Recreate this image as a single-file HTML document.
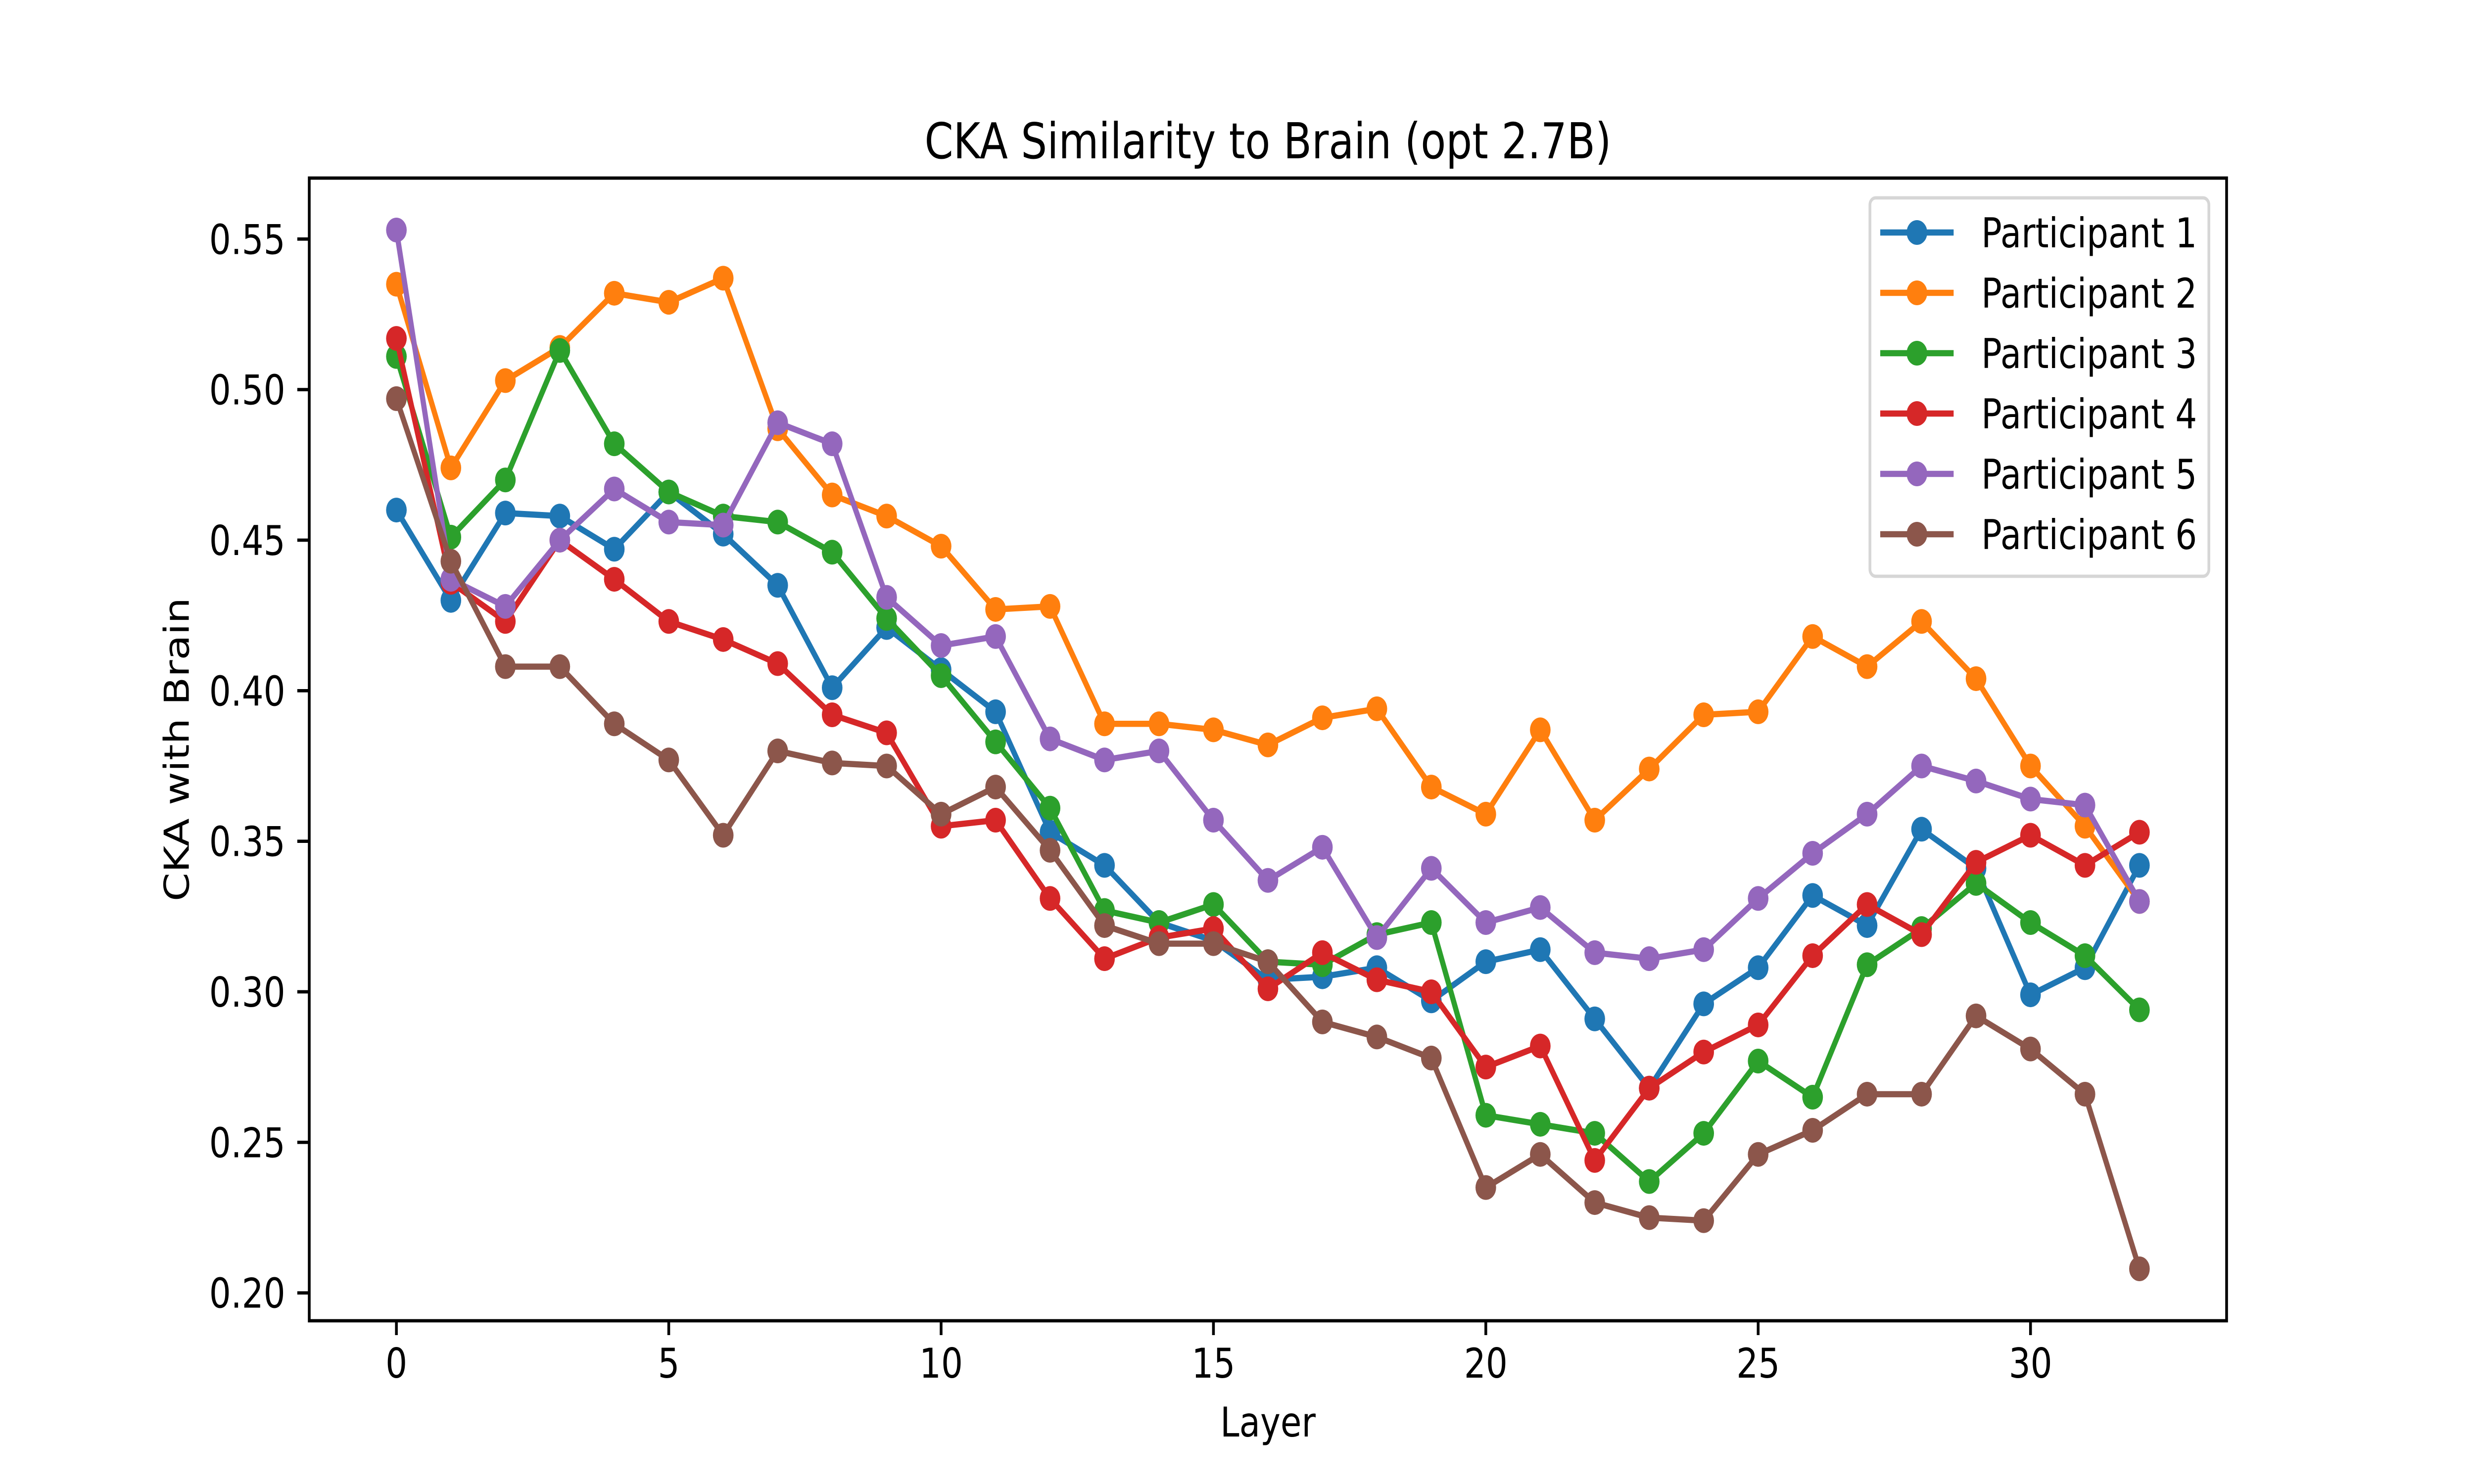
<!DOCTYPE html>
<html><head><meta charset="utf-8"><style>
html,body{margin:0;padding:0;background:#fff;overflow:hidden;width:100%;height:100%;}
svg{display:block;width:100vw;height:100vh;font-family:"DejaVu Sans","Liberation Sans",sans-serif;}
</style></head><body>
<svg id="chart" viewBox="0 0 6000 3000" preserveAspectRatio="none" xmlns="http://www.w3.org/2000/svg">
<rect width="6000" height="3000" fill="#fff"/>
<g id="plot"></g>
</svg>
<script>
const layers = Array.from({length:33},(_,i)=>i);
const p1 = [0.460,0.430,0.459,0.458,0.447,0.466,0.452,0.435,0.401,0.421,0.407,0.393,0.353,0.342,0.323,0.317,0.304,0.305,0.308,0.297,0.310,0.314,0.291,0.268,0.296,0.308,0.332,0.322,0.354,0.341,0.299,0.308,0.342];
const p2 = [0.535,0.474,0.503,0.514,0.532,0.529,0.537,0.487,0.465,0.458,0.448,0.427,0.428,0.389,0.389,0.387,0.382,0.391,0.394,0.368,0.359,0.387,0.357,0.374,0.392,0.393,0.418,0.408,0.423,0.404,0.375,0.355,0.330];
const p3 = [0.511,0.451,0.470,0.513,0.482,0.466,0.458,0.456,0.446,0.424,0.405,0.383,0.361,0.327,0.323,0.329,0.310,0.309,0.319,0.323,0.259,0.256,0.253,0.237,0.253,0.277,0.265,0.309,0.321,0.336,0.323,0.312,0.294];
const p4 = [0.517,0.436,0.423,0.450,0.437,0.423,0.417,0.409,0.392,0.386,0.355,0.357,0.331,0.311,0.318,0.321,0.301,0.313,0.304,0.300,0.275,0.282,0.244,0.268,0.280,0.289,0.312,0.329,0.319,0.343,0.352,0.342,0.353];
const p5 = [0.553,0.437,0.428,0.450,0.467,0.456,0.455,0.489,0.482,0.431,0.415,0.418,0.384,0.377,0.380,0.357,0.337,0.348,0.318,0.341,0.323,0.328,0.313,0.311,0.314,0.331,0.346,0.359,0.375,0.370,0.364,0.362,0.330];
const p6 = [0.497,0.443,0.408,0.408,0.389,0.377,0.352,0.380,0.376,0.375,0.359,0.368,0.347,0.322,0.316,0.316,0.310,0.290,0.285,0.278,0.235,0.246,0.230,0.225,0.224,0.246,0.254,0.266,0.266,0.292,0.281,0.266,0.208];
const seriesNames = ["Participant 1","Participant 2","Participant 3","Participant 4","Participant 5","Participant 6"];
const xTicks = [0,5,10,15,20,25,30];
const yTicks = [0.20,0.25,0.30,0.35,0.40,0.45,0.50,0.55];

const series=[p1,p2,p3,p4,p5,p6];
const colors=["#1f77b4","#ff7f0e","#2ca02c","#d62728","#9467bd","#8c564b"];
const L=750,R=5400,T=360,B=2670;
const all=series.flat();
const dmin=Math.min(...all),dmax=Math.max(...all),m=(dmax-dmin)*0.05;
const y0=dmin-m,y1=dmax+m;
const xmax=layers[layers.length-1],xm=xmax*0.05;
const X=v=>L+(v+xm)/(xmax+2*xm)*(R-L);
const Y=v=>B-(v-y0)/(y1-y0)*(B-T);
const NS="http://www.w3.org/2000/svg";
const g=document.getElementById('plot');
function el(tag,attrs,parent){const e=document.createElementNS(NS,tag);for(const k in attrs)e.setAttribute(k,attrs[k]);(parent||g).appendChild(e);return e;}

series.forEach((s,si)=>{
  const sg=el('g',{});
  
  
  const pl=el('polyline',{points:s.map((v,i)=>X(layers[i])+','+Y(v)).join(' '),fill:'none',stroke:colors[si],'stroke-width':12.5,'stroke-linejoin':'round','stroke-linecap':'square'},sg);
  
  
  s.forEach((v,i)=>{
    const c=el('circle',{cx:X(layers[i]),cy:Y(v),r:25,fill:colors[si]},sg);
    
    
  });
});

const fr=el('rect',{x:L,y:T,width:R-L,height:B-T,fill:'none',stroke:'#000','stroke-width':6.67});



xTicks.forEach(t=>{
  const x=X(t);
  const tk=el('line',{x1:x,x2:x,y1:B,y2:B+29,stroke:'#000','stroke-width':6.67});
  
  
  const tx=el('text',{x:x,y:B+115,'font-size':83,'text-anchor':'middle',fill:'#000'});
  tx.textContent=String(t);
  
  
});
yTicks.forEach(t=>{
  const y=Y(t);
  const tk=el('line',{x1:L-29,x2:L,y1:y,y2:y,stroke:'#000','stroke-width':6.67});
  
  
  const tx=el('text',{x:L-58,y:y+30,'font-size':83,'text-anchor':'end',fill:'#000'});
  tx.textContent=t.toFixed(2);
  
  
});

const title=el('text',{x:(L+R)/2,y:320,'font-size':100,'text-anchor':'middle',fill:'#000'});
title.textContent='CKA Similarity to Brain (opt 2.7B)';


const xl=el('text',{x:(L+R)/2,y:2904,'font-size':83,'text-anchor':'middle',fill:'#000'});
xl.textContent='Layer';


const yl=el('text',{x:0,y:0,'font-size':83,'text-anchor':'middle',fill:'#000',transform:'translate(458,'+((T+B)/2)+') rotate(-90)'});
yl.textContent='CKA with Brain';



const lg=el('g',{});


const lb=el('rect',{x:4535,y:400,width:822,height:765,rx:14,fill:'#fff','fill-opacity':0.8,stroke:'#d6d6d6','stroke-width':6.67},lg);


seriesNames.forEach((n,i)=>{
  const y=470+i*122;
  const eg=el('g',{},lg);
  
  
  el('line',{x1:4560,x2:4738,y1:y,y2:y,stroke:colors[i],'stroke-width':12.5},eg);
  el('circle',{cx:4649,cy:y,r:25,fill:colors[i]},eg);
  const t=el('text',{x:4805,y:y+30,'font-size':83,fill:'#000'},eg);
  t.textContent=n;
});
</script>
</body></html>
